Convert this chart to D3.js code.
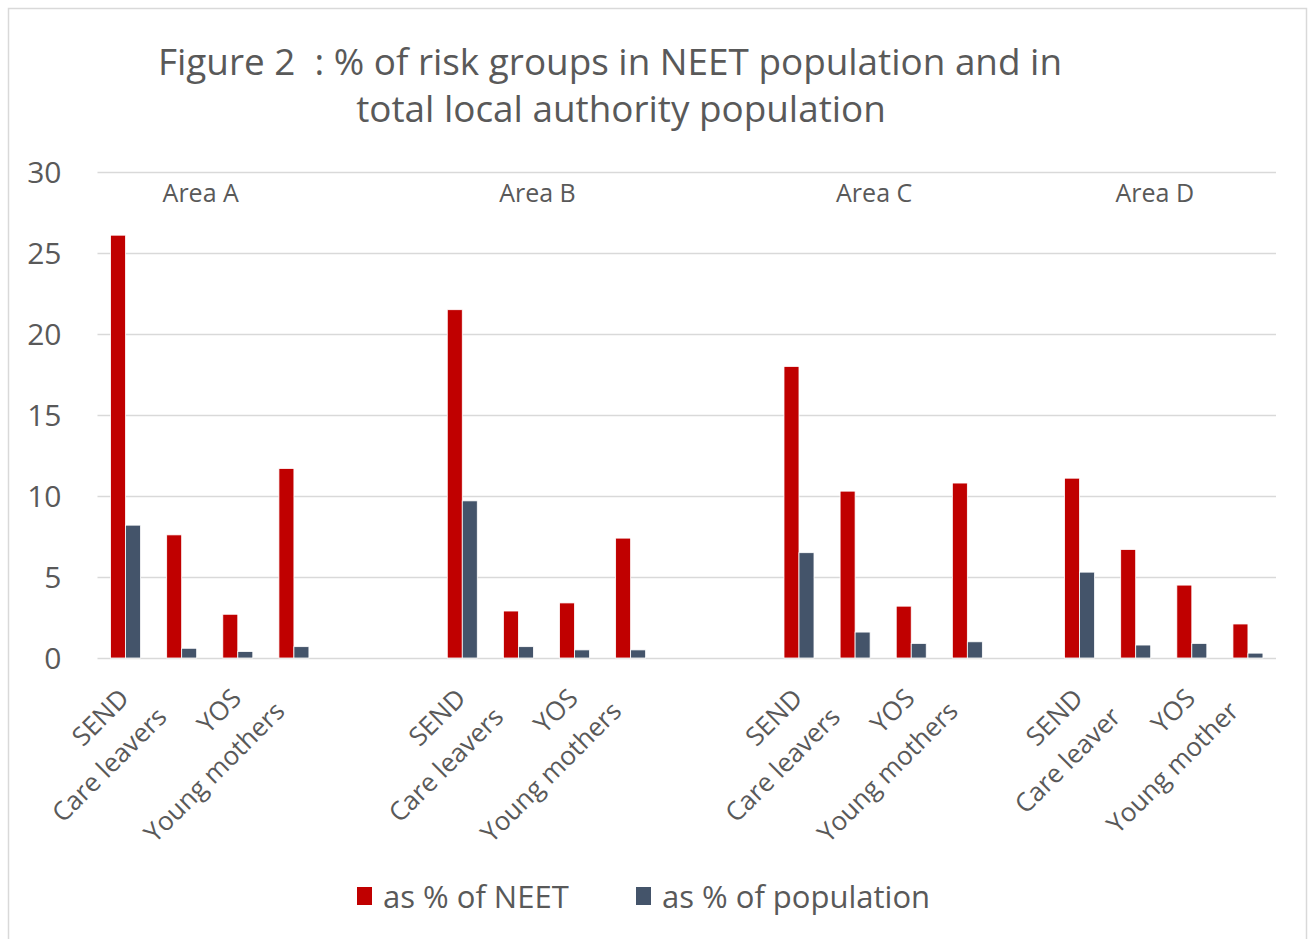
<!DOCTYPE html>
<html>
<head>
<meta charset="utf-8">
<script src="https://cdn.jsdelivr.net/npm/d3@7"></script>
<style>
  html, body { margin: 0; padding: 0; background: #ffffff; }
  svg { display: block; font-family: "Open Sans", "Noto Sans", sans-serif; }
</style>
</head>
<body>
<svg id="chart" width="1309" height="939"></svg>
<script>
// ---- data ----
const titleLines = ["Figure 2  : % of risk groups in NEET population and in", "total local authority population"];
const categories = [
  "SEND", "Care leavers", "YOS", "Young mothers", "", "",
  "SEND", "Care leavers", "YOS", "Young mothers", "", "",
  "SEND", "Care leavers", "YOS", "Young mothers", "",
  "SEND", "Care leaver", "YOS", "Young mother"
];
const areaLabels = ["Area A", "Area B", "Area C", "Area D"];
const neetPct = [26.1, 7.6, 2.7, 11.7, null, null,
                 21.5, 2.9, 3.4, 7.4, null, null,
                 18.0, 10.3, 3.2, 10.8, null,
                 11.1, 6.7, 4.5, 2.1];
const popPct  = [8.2, 0.6, 0.4, 0.7, null, null,
                 9.7, 0.7, 0.5, 0.5, null, null,
                 6.5, 1.6, 0.9, 1.0, null,
                 5.3, 0.8, 0.9, 0.3];
const seriesNames = ["as % of NEET", "as % of population"];
const seriesColors = ["#C00000", "#44546A"];
const yTicks = [0, 5, 10, 15, 20, 25, 30];

// ---- layout / style ----
const svg = d3.select("#chart");
const textColor = "#595959";
const gridColor = "#D9D9D9";
// pull-back along the baseline of the rotated labels, by position inside each area group
const labelPullBack = [0, 26, 0, 18];

svg.append("rect")
  .attr("x", 8.5).attr("y", 8.5)
  .attr("width", 1298).attr("height", 960)
  .attr("fill", "#fff").attr("stroke", gridColor).attr("stroke-width", 1.5);

const plot = { left: 97.5, right: 1276, top: 172, bottom: 658 };

const x = d3.scaleBand()
  .domain(d3.range(categories.length))
  .range([plot.left, plot.right])
  .paddingInner(0).paddingOuter(0);

const xSub = d3.scaleBand()
  .domain([0, 1])
  .range([0, x.bandwidth()])
  .paddingInner(0).paddingOuter(0.87);

const y = d3.scaleLinear().domain([0, 30]).range([plot.bottom, plot.top]);

// gridlines + y labels via axis
const yAxis = d3.axisLeft(y).tickValues(yTicks).tickSize(-(plot.right - plot.left)).tickPadding(36);
const gy = svg.append("g").attr("transform", `translate(${plot.left},0)`).call(yAxis);
gy.select(".domain").remove();
gy.selectAll(".tick line").attr("stroke", gridColor).attr("stroke-width", 1.6);
gy.selectAll(".tick text")
  .attr("fill", textColor)
  .style("font-size", "30px")
  .style("font-family", "'Open Sans', sans-serif")
  .attr("dy", "0.36em");

// bars
const series = [neetPct, popPct];
series.forEach((vals, si) => {
  svg.append("g").selectAll("rect")
    .data(vals.map((v, i) => ({ v, i })).filter(d => d.v != null))
    .join("rect")
    .attr("x", d => x(d.i) + xSub(si))
    .attr("width", xSub.bandwidth())
    .attr("y", d => y(d.v))
    .attr("height", d => y(0) - y(d.v))
    .attr("fill", seriesColors[si])
    .attr("stroke", "#fff")
    .attr("stroke-width", 0.8);
});

// runs of categories (one per area)
const runs = [];
let start = null;
categories.forEach((c, i) => {
  if (c !== "" && start === null) start = i;
  if ((c === "" || i === categories.length - 1) && start !== null) {
    const end = c === "" ? i - 1 : i;
    runs.push([start, end]);
    start = null;
  }
});
const posInGroup = i => {
  const r = runs.find(r => i >= r[0] && i <= r[1]);
  return r ? i - r[0] : 0;
};

// x category labels (rotated)
svg.append("g").selectAll("text")
  .data(categories.map((c, i) => ({ c, i })).filter(d => d.c !== ""))
  .join("text")
  .attr("transform", d => `translate(${x(d.i) + x.bandwidth() / 2 + 5},${plot.bottom + 42}) rotate(-45)`)
  .attr("x", d => -labelPullBack[posInGroup(d.i)])
  .attr("text-anchor", "end")
  .attr("fill", textColor)
  .style("font-size", "26px")
  .text(d => d.c);

// area labels over each run
svg.append("g").selectAll("text")
  .data(areaLabels.map((a, k) => ({ a, run: runs[k] })))
  .join("text")
  .attr("x", d => (x(d.run[0]) + x(d.run[1]) + x.bandwidth()) / 2 - 9)
  .attr("y", 202)
  .attr("text-anchor", "middle")
  .attr("fill", textColor)
  .style("font-size", "25px")
  .text(d => d.a);

// title
const titleCenters = [610, 621];
const titleBase = [75, 122];
const t = svg.append("g").selectAll("text")
  .data(titleLines)
  .join("text")
  .attr("x", (d, i) => titleCenters[i])
  .attr("y", (d, i) => titleBase[i])
  .attr("text-anchor", "middle")
  .attr("fill", textColor)
  .style("font-size", "34px")
  .style("white-space", "pre")
  .text(d => d);
const w0 = t.nodes()[0].getComputedTextLength();
const fs = 34 * 904 / w0;
t.style("font-size", fs.toFixed(2) + "px");

// legend
const legendX = [357, 636];
const leg = svg.append("g").selectAll("g")
  .data(seriesNames)
  .join("g")
  .attr("transform", (d, i) => `translate(${legendX[i]},0)`);
leg.append("rect")
  .attr("x", 0).attr("y", 887)
  .attr("width", 15).attr("height", 18)
  .attr("fill", (d, i) => seriesColors[i]);
leg.append("text")
  .attr("x", 26).attr("y", 908)
  .attr("fill", textColor)
  .style("font-size", "31px")
  .text(d => d);
</script>
</body>
</html>
